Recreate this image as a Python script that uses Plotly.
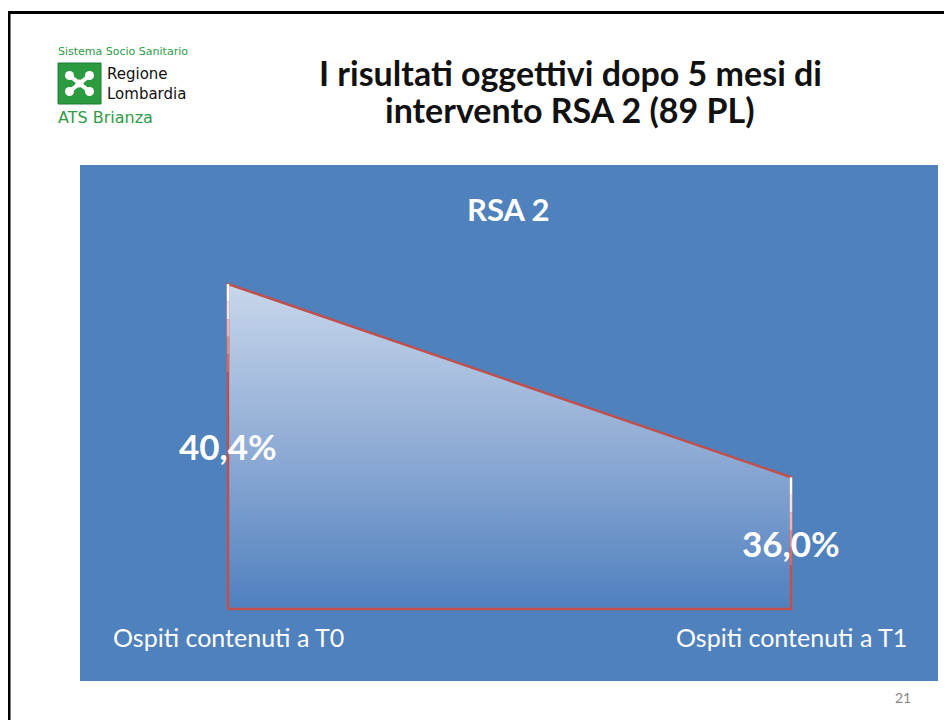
import plotly.graph_objects as go

# ---- data ----
categories = ["Ospiti contenuti a T0", "Ospiti contenuti a T1"]
values = [40.4, 36.0]
value_labels = ["40,4%", "36,0%"]
chart_title = "RSA 2"
slide_title_lines = ["I risultati oggettivi dopo 5 mesi di", "intervento RSA 2 (89 PL)"]
page_number = "21"

# page has an 8px body margin: work in screen pixels, convert to figure fractions
OFF = 8
W, H = 944, 712


def fx(x):
    return (x - OFF) / W


def fy(y):
    return 1 - (y - OFF) / H


y_min, y_max = 33.0, 41.0
x_pos = list(range(len(categories)))

RED = "#C0504D"
PANEL = "#4F81BD"
GREEN = "#2E9B45"

fig = go.Figure()

# area polygon (closed)
x_poly = [x_pos[0]] + x_pos + [x_pos[-1], x_pos[0]]
y_poly = [y_min] + values + [y_min, y_min]
fig.add_trace(go.Scatter(
    x=x_poly, y=y_poly, mode="lines", fill="toself",
    fillgradient=dict(type="vertical",
                      colorscale=[[0, "#4F80BF"], [0.45, "#8AA8D3"], [1, "#C8D7EB"]]),
    line=dict(color=RED, width=2.5),
    hoverinfo="skip", showlegend=False))

# fading white tops of vertical edges
fade_colors = ["#FFFFFF", "#F6E2E2", "#E8B8B6", "#D88C89", "#CC6E6A"]
for i, v in zip(x_pos, values):
    n = len(fade_colors)
    step = 2.0 / n
    for k, c in enumerate(fade_colors):
        fig.add_trace(go.Scatter(
            x=[i, i], y=[v - k * step, v - (k + 1) * step], mode="lines",
            line=dict(color=c, width=2.5), hoverinfo="skip", showlegend=False))

# value labels
for i, v, lab in zip(x_pos, values, value_labels):
    fig.add_annotation(x=i, y=(y_min + v) / 2, xref="x", yref="y", text="<b>" + lab + "</b>",
                       showarrow=False, xanchor="center", yanchor="middle",
                       font=dict(family="Lato", size=35, color="white"))

# category labels
for i, c in zip(x_pos, categories):
    fig.add_annotation(x=i, y=fy(637), xref="x", yref="paper", text=c,
                       showarrow=False, xanchor="center", yanchor="middle",
                       font=dict(family="Lato", size=25, color="white"))

# chart title
fig.add_annotation(x=fx(508), y=fy(209), xref="paper", yref="paper", text="<b>" + chart_title + "</b>",
                   showarrow=False, xanchor="center", yanchor="middle",
                   font=dict(family="Lato", size=31, color="white"))

# slide title
for line, yc in zip(slide_title_lines, [72, 110]):
    fig.add_annotation(x=fx(570), y=fy(yc), xref="paper", yref="paper", text="<b>" + line + "</b>",
                       showarrow=False, xanchor="center", yanchor="middle",
                       font=dict(family="Lato", size=34, color="#111111"))

# page number
fig.add_annotation(x=fx(903), y=fy(697), xref="paper", yref="paper", text=page_number,
                   showarrow=False, xanchor="center", yanchor="middle",
                   font=dict(family="Lato", size=14, color="#888888"))

# logo texts
fig.add_annotation(x=fx(56), y=fy(51), xref="paper", yref="paper", xanchor="left", yanchor="middle",
                   text="Sistema Socio Sanitario", showarrow=False,
                   font=dict(family="DejaVu Sans", size=11, color=GREEN))
fig.add_annotation(x=fx(105), y=fy(84), xref="paper", yref="paper", xanchor="left", yanchor="middle",
                   text="Regione<br>Lombardia", showarrow=False, align="left",
                   font=dict(family="DejaVu Sans", size=15, color="#111111"))
fig.add_annotation(x=fx(56), y=fy(118), xref="paper", yref="paper", xanchor="left", yanchor="middle",
                   text="ATS Brianza", showarrow=False,
                   font=dict(family="DejaVu Sans", size=16, color=GREEN))

shapes = []
# slide border
shapes.append(dict(type="line", xref="paper", yref="paper", x0=fx(9), x1=fx(9), y0=fy(11), y1=fy(730),
                   line=dict(color="black", width=3)))
shapes.append(dict(type="line", xref="paper", yref="paper", x0=fx(8), x1=fx(960), y0=fy(12.5), y1=fy(12.5),
                   line=dict(color="black", width=3)))
# blue panel
shapes.append(dict(type="rect", xref="paper", yref="paper", x0=fx(80), x1=fx(938), y0=fy(165), y1=fy(681),
                   fillcolor=PANEL, line=dict(width=0), layer="below"))
# logo icon
shapes.append(dict(type="rect", xref="paper", yref="paper", x0=fx(58), x1=fx(101), y0=fy(63), y1=fy(104),
                   fillcolor="#2C9A3F", line=dict(color="#1E7A30", width=1)))
cx, cy = 79.5, 83.5
for dx, dy in [(-10, -8), (10, -8), (-10, 8), (10, 8)]:
    shapes.append(dict(type="line", xref="paper", yref="paper", x0=fx(cx), y0=fy(cy),
                       x1=fx(cx + dx * 0.8), y1=fy(cy + dy * 0.8),
                       line=dict(color="white", width=4)))
    shapes.append(dict(type="circle", xref="paper", yref="paper",
                       x0=fx(cx + dx - 4.5), x1=fx(cx + dx + 4.5),
                       y0=fy(cy + dy - 4.5), y1=fy(cy + dy + 4.5),
                       fillcolor="white", line=dict(width=0)))
shapes.append(dict(type="circle", xref="paper", yref="paper", x0=fx(cx - 4), x1=fx(cx + 4),
                   y0=fy(cy - 4), y1=fy(cy + 4), fillcolor="white", line=dict(width=0)))

px_per_unit_y = (609 - 284) / (values[0] - y_min)
y_lo = 32.5
y_bottom_px = 609 + (y_min - y_lo) * px_per_unit_y
y_top_px = 609 - (y_max - y_min) * px_per_unit_y
x_px_unit = 791 - 228
x_lo, x_hi = -0.2, 1.2

fig.update_layout(
    width=W, height=H,
    margin=dict(l=0, r=0, t=0, b=0),
    paper_bgcolor="white",
    plot_bgcolor="rgba(0,0,0,0)",
    shapes=shapes,
    showlegend=False,
    xaxis=dict(range=[x_lo, x_hi], domain=[fx(228 + x_lo * x_px_unit), fx(228 + x_hi * x_px_unit)],
               visible=False, fixedrange=True),
    yaxis=dict(range=[y_lo, y_max], domain=[fy(y_bottom_px), fy(y_top_px)],
               visible=False, fixedrange=True),
)

fig.write_html("out.html")
